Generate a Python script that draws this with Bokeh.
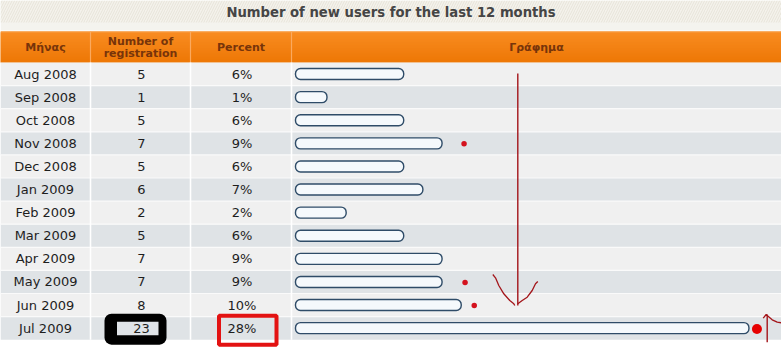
from bokeh.plotting import figure
from bokeh.models import Range1d
from bokeh.core.properties import value
from bokeh.embed import file_html
from bokeh.resources import INLINE
import numpy as np

# ---- data ----
months = ["Aug 2008", "Sep 2008", "Oct 2008", "Nov 2008", "Dec 2008", "Jan 2009",
          "Feb 2009", "Mar 2009", "Apr 2009", "May 2009", "Jun 2009", "Jul 2009"]
registrations = [5, 1, 5, 7, 5, 6, 2, 5, 7, 7, 8, 23]
percents = ["6%", "1%", "6%", "9%", "6%", "7%", "2%", "6%", "9%", "9%", "10%", "28%"]
title_text = "Number of new users for the last 12 months"
header_labels = ["Μήνας", "Number of|registration", "Percent", "Γράφημα"]
marked_rows = [3, 9, 10]          # rows with a small red dot after the bar
highlight_row = 11                # row circled in the screenshot

# ---- layout constants ----
W, H = 781, 351
col_edges = [0, 90, 190, 291, 781]
title_bottom = 22
header_top, header_bottom = 31, 62
row_h = 23.1
n = len(months)
FONT = value("DejaVu Sans")

p = figure(width=W, height=H, x_range=Range1d(0, W), y_range=Range1d(H, 0),
           output_backend="svg", toolbar_location=None,
           x_axis_location=None, y_axis_location=None, min_border=0)
p.grid.visible = False
p.outline_line_color = None
p.background_fill_color = "white"
p.border_fill_color = "white"

# title band
p.quad(left=0, right=W, top=0, bottom=header_top - 1, fill_color="#f4f3ee", line_color=None)
p.quad(left=0, right=W, top=0, bottom=title_bottom, fill_color="#f4f2ec", line_color=None,
       hatch_pattern="/", hatch_color="#e7e4d9", hatch_scale=5, hatch_weight=1)
p.text(x=[W / 2], y=[12], text=[title_text], text_font=FONT, text_font_size="13.2px",
       text_font_style="bold", text_color="#454545", text_align="center", text_baseline="middle")

# header gradient (solid base + overlapping strips)
p.quad(left=0, right=W, top=header_top, bottom=header_bottom, fill_color="#f4830f", line_color=None)
steps = header_bottom - header_top
c0 = np.array([0xf9, 0x8c, 0x22]); c1 = np.array([0xee, 0x78, 0x06])
cols = []
for k in range(steps):
    c = (c0 + (c1 - c0) * k / (steps - 1)).astype(int)
    cols.append("#%02x%02x%02x" % tuple(c))
cols[0] = "#f99c45"
p.quad(left=[0] * steps, right=[W] * steps, top=[header_top + k for k in range(steps)],
       bottom=[min(header_top + k + 1.8, header_bottom) for k in range(steps)],
       fill_color=cols, line_color=None)
p.segment(x0=col_edges[1:4], x1=col_edges[1:4], y0=[header_top] * 3, y1=[header_bottom] * 3,
          line_color="#fba95e", line_width=1.2)

hc = [(col_edges[i] + col_edges[i + 1]) / 2 for i in range(4)]
hy = (header_top + header_bottom) / 2
for i, lab in enumerate(header_labels):
    parts = lab.split("|")
    if len(parts) == 1:
        ys = [hy]
    else:
        ys = [hy - 6, hy + 6]
    p.text(x=[hc[i]] * len(parts), y=ys, text=parts, text_font=FONT, text_font_size="11px",
           text_font_style="bold", text_color="#77340a", text_align="center", text_baseline="middle")

# rows
tops = [header_bottom + i * row_h for i in range(n)]
bots = [t + row_h for t in tops]
centers = [t + row_h / 2 for t in tops]
row_cols = ["#f0f0f0" if i % 2 == 0 else "#dfe3e6" for i in range(n)]
p.quad(left=0, right=W, top=tops, bottom=bots, fill_color=row_cols, line_color=None)
p.segment(x0=[0] * (n - 1), x1=[W] * (n - 1), y0=bots[:-1], y1=bots[:-1],
          line_color="#fafafa", line_width=1.2)
p.segment(x0=col_edges[1:4], x1=col_edges[1:4], y0=[header_bottom] * 3, y1=[bots[-1]] * 3,
          line_color="white", line_width=1.6)

txt = dict(text_font=FONT, text_font_size="13px", text_color="#1e1e1e",
           text_align="center", text_baseline="middle")
p.text(x=[hc[0]] * n, y=centers, text=months, **txt)
p.text(x=[hc[1] + 1] * n, y=centers, text=[str(v) for v in registrations], **txt)
p.text(x=[hc[2] + 1] * n, y=centers, text=percents, **txt)

# bars on their own scale: value v -> pixel base + unit*v
unit, base = 19.18, 307.3
p.extra_x_ranges["bars"] = Range1d(start=-base / unit, end=(W - base) / unit)
bar_left = (295 - base) / unit
p.hbar(y=centers, left=bar_left, right=registrations, height=11, x_range_name="bars",
       fill_color="#f5f9fc", line_color="#2f4c68", line_width=1.4, border_radius=5)

# ---- hand-drawn annotations ----
red_dark = "#a3151a"
def bar_end(v):
    return base + unit * v

dot_off = {3: 22, 9: 23, 10: 13}
p.scatter(x=[bar_end(registrations[r]) + dot_off[r] for r in marked_rows],
          y=[centers[r] + 0.5 for r in marked_rows], size=5.5, fill_color="#d4121e", line_color=None)
p.scatter(x=[bar_end(registrations[highlight_row]) + 8], y=[centers[highlight_row] + 0.8],
          size=10, fill_color="#e60000", line_color=None)

# down arrow
ax = 517.3
p.line(x=[ax, ax], y=[centers[0] - 0.5, centers[10] + 0.5], line_color=red_dark, line_width=1.4)
p.line(x=[492.3, 495, 498.3, 503.3, 509.3, 513.3, 514.3],
       y=[274, 277.3, 285, 293.3, 300, 303.3, 305], line_color=red_dark, line_width=1.3)
p.line(x=[517.3, 521.7, 526.7, 531.7, 535, 537.3],
       y=[303.3, 300, 296.7, 290, 283.3, 281], line_color=red_dark, line_width=1.3)
# up arrow at right
p.line(x=[766.7, 766.7], y=[341.7, 314], line_color=red_dark, line_width=1.4)
p.line(x=[762.7, 765.7, 766.7, 771.7, 776.7, 781],
       y=[317.7, 314, 315, 319.3, 321.7, 322.3], line_color=red_dark, line_width=1.3)

# black box around the count, red box around the percent
hr = highlight_row
p.quad(left=[104], right=[166], top=[centers[hr] - 14.5], bottom=[centers[hr] + 16.5],
       fill_color="black", line_color=None, border_radius=7)
p.quad(left=[116.5], right=[158], top=[centers[hr] - 6.5], bottom=[centers[hr] + 7],
       fill_color="#e0e4e8", line_color=None)
p.text(x=[hc[1] + 1], y=[centers[hr]], text=[str(registrations[hr])], **txt)
p.quad(left=[218.5], right=[276], top=[centers[hr] - 12.5], bottom=[centers[hr] + 16.5],
       fill_color=None, line_color="#e31212", line_width=4)

open("out.html", "w").write(file_html(p, INLINE))
